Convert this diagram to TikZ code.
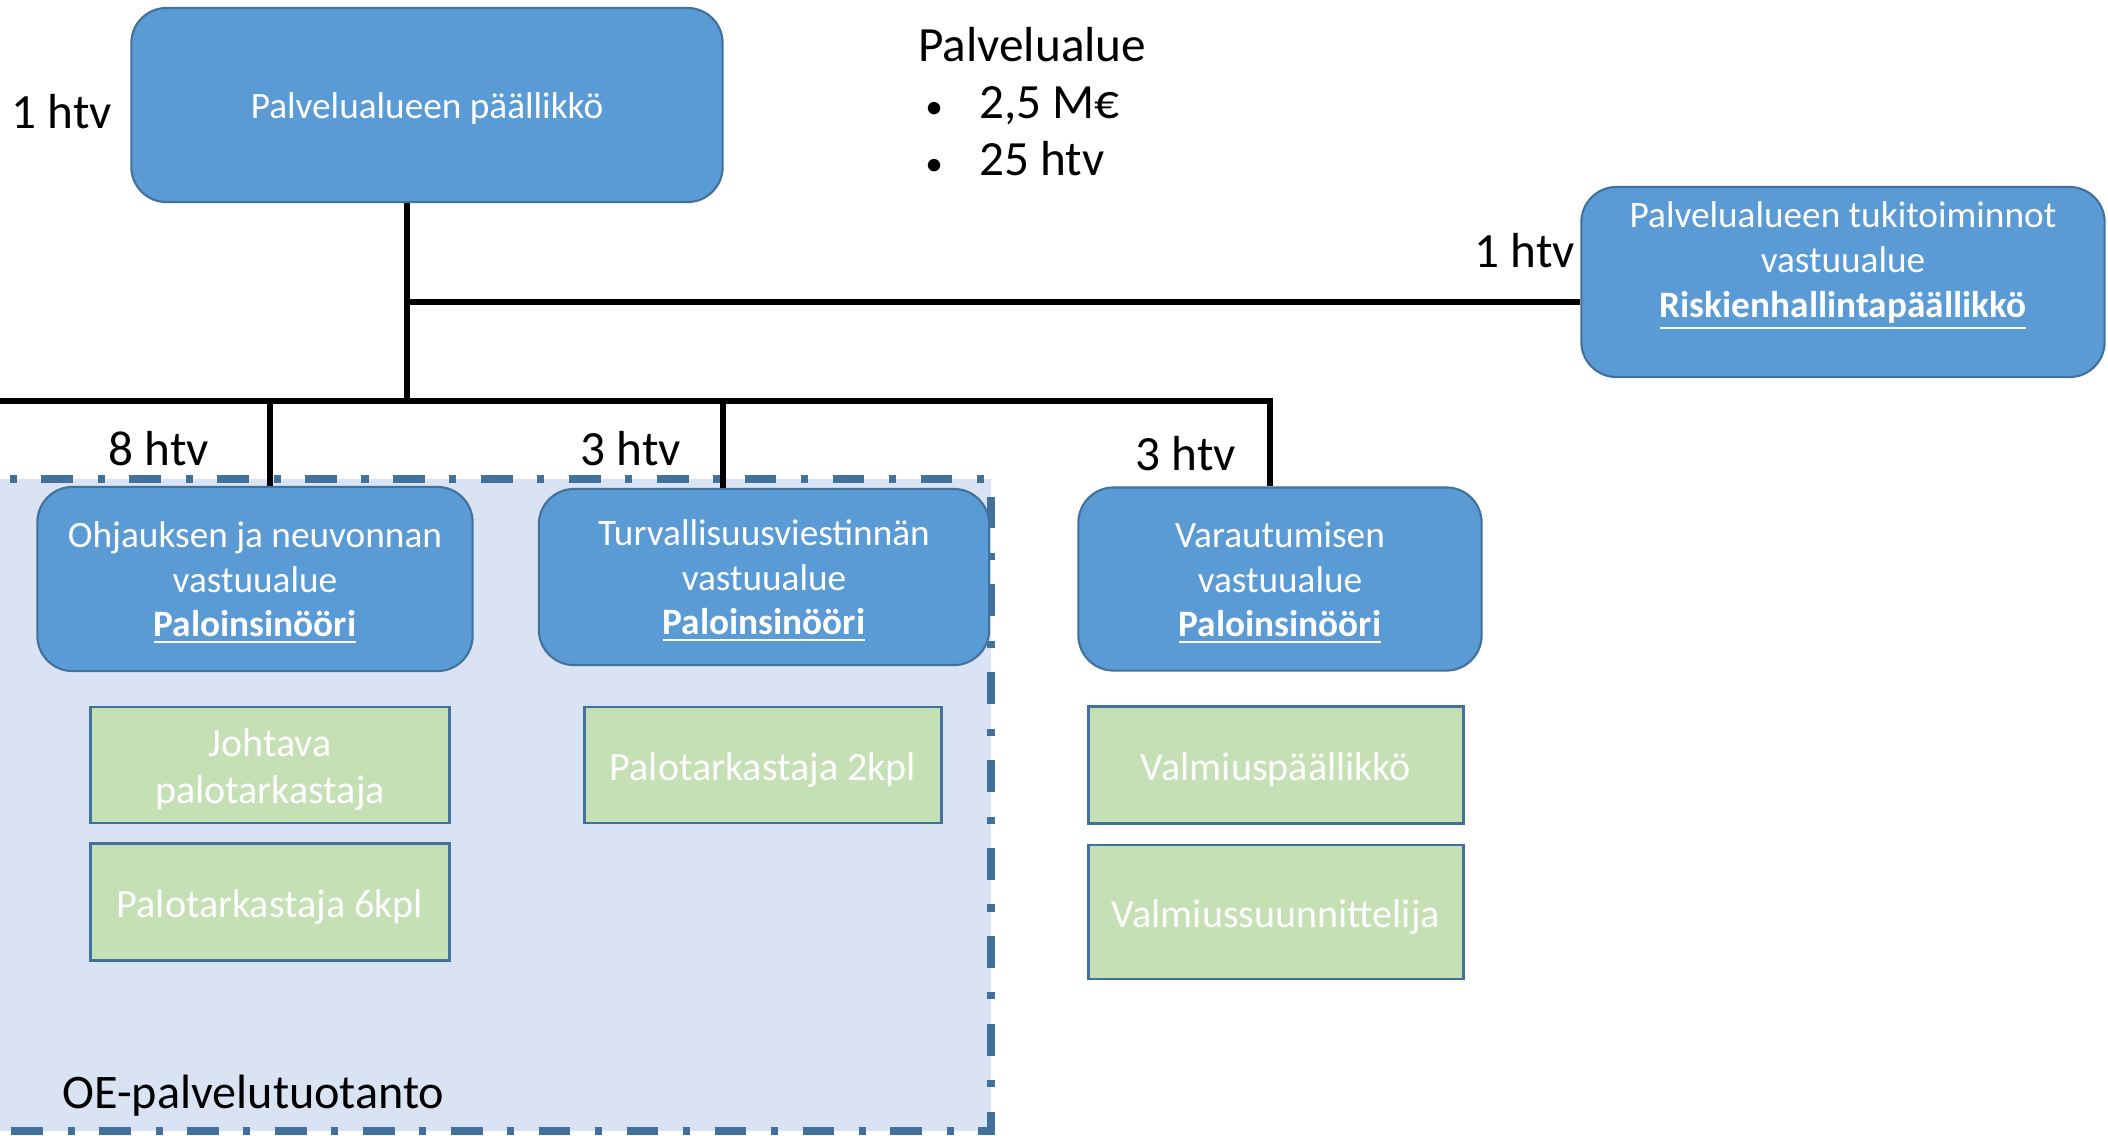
\documentclass[tikz,border=0pt]{standalone}
\usepackage{fontspec}
\setmainfont{Carlito}
\usetikzlibrary{calc,positioning}
\definecolor{boxblue}{RGB}{91,155,213}
\definecolor{edgeblue}{RGB}{65,113,156}
\definecolor{boxgreen}{RGB}{197,224,180}
\definecolor{areablue}{RGB}{218,227,243}

\begin{document}
\begin{tikzpicture}[x=0.01cm,y=-0.01cm,align=center,
  vastuu/.style={draw=edgeblue,line width=0.6pt,fill=boxblue,rounded corners=10pt,text=white,inner sep=0pt,font=\fontsize{10.6}{12.7}\selectfont},
  tehtava/.style={draw=edgeblue,line width=0.8pt,fill=boxgreen,text=white,inner sep=0pt,font=\fontsize{11.4}{13.6}\selectfont},
  htv/.style={font=\fontsize{14}{16}\selectfont},
  linja/.style={line width=1.5pt}]
   \useasboundingbox (0,0) rectangle (2108,1135);
   \clip (0,0) rectangle (2108,1135);
   % OE-palvelutuotanto
   \draw[fill=areablue,draw=edgeblue,line width=2.2pt,dash pattern=on 9pt off 7pt on 2pt off 7pt] (-40,479) rectangle (991,1131);
   \node[anchor=west,font=\fontsize{13.7}{16}\selectfont] (OE) at (50,1096) {OE-palvelutuotanto};
   % paallikko
   \node[vastuu,minimum width=5.91cm,minimum height=1.94cm] (PA) at (427,105) {\rule{0pt}{9.5pt}Palvelualueen päällikkö};
   \node[htv] (H0) at (62,112) {1 htv};
   \node[anchor=west,align=left,font=\fontsize{14}{16.2}\selectfont] (PAL) at (906,102) {Palvelualue\\
     \makebox[17.3pt][l]{\hspace{2pt}\fontsize{10}{10}\selectfont •}2,5 M€\\
     \makebox[17.3pt][l]{\hspace{2pt}\fontsize{10}{10}\selectfont •}25 htv};
   \node[vastuu,minimum width=5.23cm,minimum height=1.9cm] (TUKI) at (1843,282) {Palvelualueen tukitoiminnot\\vastuualue\\\underline{\textbf{Riskienhallintapäällikkö}}\\\mbox{}};
   \node[htv] (H1) at (1525,251) {1 htv};
   % vastuualueet
   \node[vastuu,minimum width=4.35cm,minimum height=1.84cm] (OHJ) at (255,579) {\rule{0pt}{9.5pt}Ohjauksen ja neuvonnan\\vastuualue\\\underline{\textbf{Paloinsinööri}}};
   \node[vastuu,minimum width=4.5cm,minimum height=1.76cm] (TURV) at (764,577) {\rule{0pt}{9.5pt}Turvallisuusviestinnän\\vastuualue\\\underline{\textbf{Paloinsinööri}}};
   \node[vastuu,minimum width=4.03cm,minimum height=1.83cm] (VAR) at (1280,579) {\rule{0pt}{9.5pt}Varautumisen\\vastuualue\\\underline{\textbf{Paloinsinööri}}};
   \node[htv] (H8) at (159,449) {8 htv};
   \node[htv] (H3a) at (631,449) {3 htv};
   \node[htv] (H3b) at (1186,454) {3 htv};
   % tehtavat
   \node[tehtava,minimum width=3.58cm,minimum height=1.16cm] (JOHT) at (270,765) {\rule{0pt}{10.5pt}Johtava\\palotarkastaja};
   \node[tehtava,minimum width=3.58cm,minimum height=1.17cm] (PT6) at (270,902) {\rule{0pt}{10.5pt}Palotarkastaja 6kpl};
   \node[tehtava,minimum width=3.57cm,minimum height=1.16cm] (PT2) at (763,765) {\rule{0pt}{10.5pt}Palotarkastaja 2kpl};
   \node[tehtava,minimum width=3.74cm,minimum height=1.17cm] (VALP) at (1276,765) {\rule{0pt}{10.5pt}Valmiuspäällikkö};
   \node[tehtava,minimum width=3.74cm,minimum height=1.34cm] (VALS) at (1276,912) {\rule{0pt}{10.5pt}Valmiussuunnittelija};
   % linjat
   \coordinate (J1) at (407,302);
   \coordinate (J2) at (407,401);
   \coordinate (BL) at (-20,401);
   \coordinate (B1) at (270,401);
   \coordinate (B2) at (723,401);
   \coordinate (B3) at (1270,401);
   \draw[linja] (PA.south -| J2) -- (J2);
   \draw[linja] (J1) -- (J1 -| TUKI.west);
   \draw[linja] (BL) -- (B3) -- (VAR.north -| B3);
   \draw[linja] (B1) -- (OHJ.north -| B1);
   \draw[linja] (B2) -- (TURV.north -| B2);
\end{tikzpicture}
\end{document}
